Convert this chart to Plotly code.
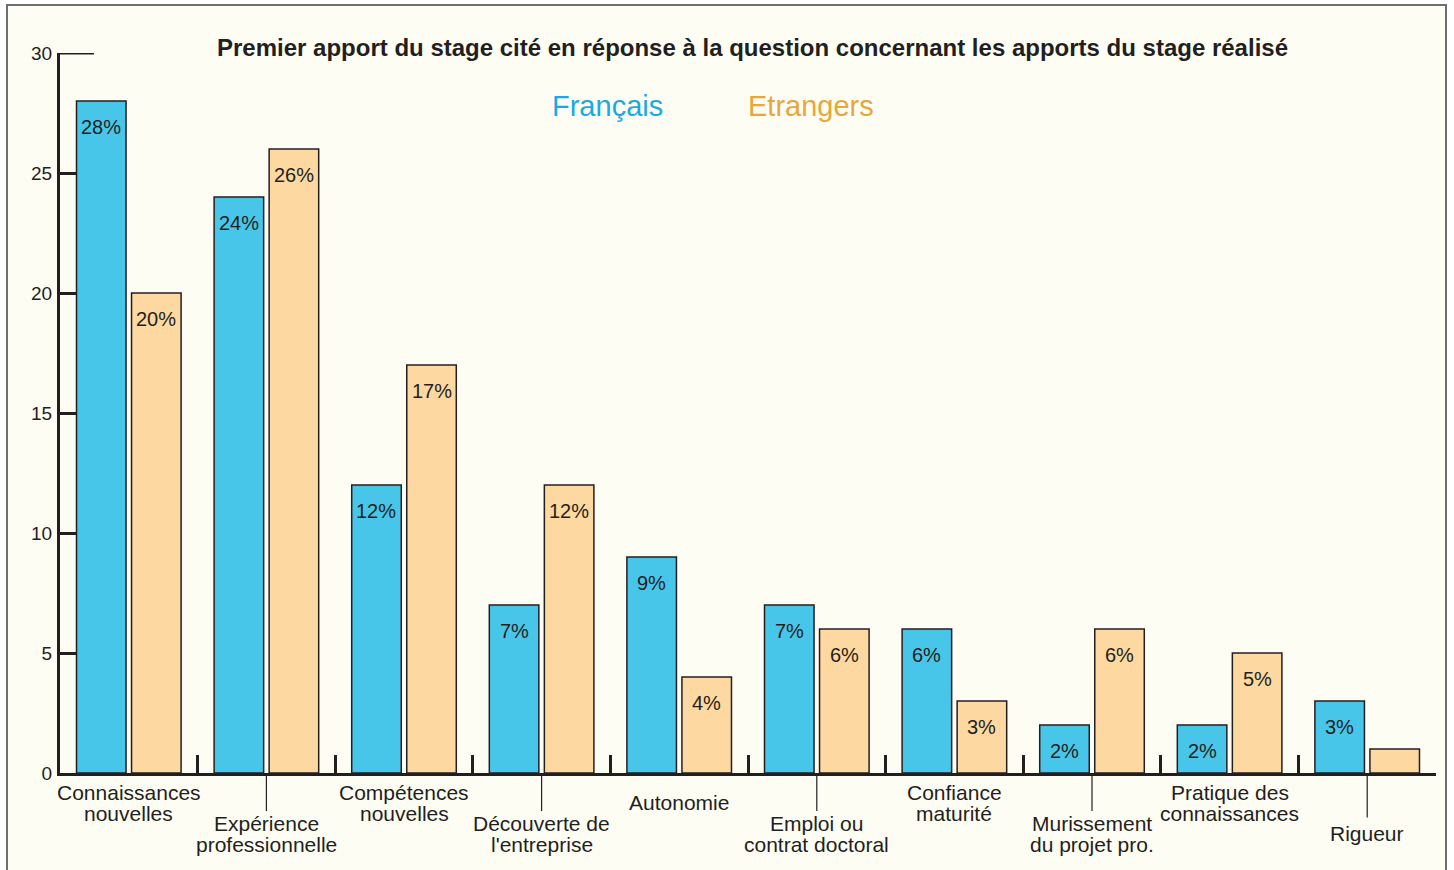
import plotly.graph_objects as go

# ---------------- data ----------------
categories = ["Connaissances\nnouvelles", "Expérience\nprofessionnelle", "Compétences\nnouvelles",
              "Découverte de\nl'entreprise", "Autonomie", "Emploi ou\ncontrat doctoral",
              "Confiance\nmaturité", "Murissement\ndu projet pro.", "Pratique des\nconnaissances",
              "Rigueur"]
francais = [28, 24, 12, 7, 9, 7, 6, 2, 2, 3]
etrangers = [20, 26, 17, 12, 4, 6, 3, 6, 5, 1]
francais_labels = ["28%", "24%", "12%", "7%", "9%", "7%", "6%", "2%", "2%", "3%"]
etrangers_labels = ["20%", "26%", "17%", "12%", "4%", "6%", "3%", "6%", "5%", None]
y_ticks = [0, 5, 10, 15, 20, 25, 30]
title_text = "Premier apport du stage cité en réponse à la question concernant les apports du stage réalisé"
series_names = ["Français", "Etrangers"]

# ---------------- style ----------------
W, H = 1454, 870
ML, MR, MT, MB = 60, 18, 53, 97
PW, PH = W - ML - MR, H - MT - MB
BLUE, ORANGE = "#47c6ea", "#fdd8a0"
BLUE_TXT, ORANGE_TXT = "#1ba9e1", "#e8a63c"
INK = "#231f20"
CREAM = "#fefdf4"
FONT = "Liberation Sans, Arial, sans-serif"
BAR_W = 0.36
OFF_BLUE, OFF_ORANGE = -0.38, 0.02
group_px = PW / len(categories)

xcats = [c.replace("\n", " ") for c in categories]

fig = go.Figure()
fig.add_trace(go.Bar(x=xcats, y=francais, name=series_names[0], width=BAR_W, offset=OFF_BLUE,
                     marker=dict(color=BLUE, line=dict(color=INK, width=1.5)), showlegend=False))
fig.add_trace(go.Bar(x=xcats, y=etrangers, name=series_names[1], width=BAR_W, offset=OFF_ORANGE,
                     marker=dict(color=ORANGE, line=dict(color=INK, width=1.5)), showlegend=False))

annotations = []
shapes = []

# value labels inside bars
for vals, labs, off in ((francais, francais_labels, OFF_BLUE), (etrangers, etrangers_labels, OFF_ORANGE)):
    for c, v, t in zip(xcats, vals, labs):
        if t is None:
            continue
        annotations.append(dict(x=c, y=v, xref="x", yref="y", text=t, showarrow=False,
                                xshift=(off + BAR_W / 2) * group_px, yshift=-26, yanchor="middle",
                                font=dict(family=FONT, size=20, color=INK)))

# category labels (staggered) with leader lines
LINE_GAP = 21
ROW_CENTERS = [29.5, 60.5]  # px below axis
for i, (c, full) in enumerate(zip(xcats, categories)):
    lines = full.split("\n")
    row = i % 2
    center = ROW_CENTERS[row]
    n = len(lines)
    first = center - (n - 1) * LINE_GAP / 2
    for k, ln in enumerate(lines):
        annotations.append(dict(x=c, y=0, xref="x", yref="y", text=ln, showarrow=False,
                                yshift=-(first + k * LINE_GAP), yanchor="middle",
                                font=dict(family=FONT, size=21, color=INK)))
    if row == 1:
        end_px = first - 12 if n > 1 else first - 16
        shapes.append(dict(type="line", xref="x", yref="paper", x0=c, x1=c, y0=0, y1=-end_px / PH,
                           line=dict(color=INK, width=1.2)))

# title & legend texts
annotations.append(dict(x=(753 - ML) / PW, y=(H - MB - 47) / PH, xref="paper", yref="paper",
                        text="<b>" + title_text + "</b>", showarrow=False, yanchor="middle",
                        font=dict(family=FONT, size=24, color=INK)))
annotations.append(dict(x=(607 - ML) / PW, y=(H - MB - 106) / PH, xref="paper", yref="paper",
                        text=series_names[0], showarrow=False, yanchor="middle",
                        font=dict(family=FONT, size=29, color=BLUE_TXT)))
annotations.append(dict(x=(811 - ML) / PW, y=(H - MB - 106) / PH, xref="paper", yref="paper",
                        text=series_names[1], showarrow=False, yanchor="middle",
                        font=dict(family=FONT, size=29, color=ORANGE_TXT)))

# frame
shapes.insert(0, dict(type="rect", xref="paper", yref="paper", layer="below",
                      x0=(7 - ML) / PW, x1=(1446 - ML) / PW, y0=-0.2, y1=(H - MB - 5) / PH,
                      fillcolor=CREAM, line=dict(color="#6d6e71", width=2)))
# long top tick at max
shapes.append(dict(type="line", xref="paper", yref="y", x0=0, x1=34 / PW, y0=y_ticks[-1], y1=y_ticks[-1],
                   line=dict(color=INK, width=3)))

fig.update_layout(
    width=W, height=H,
    margin=dict(l=ML, r=MR, t=MT, b=MB),
    paper_bgcolor="white", plot_bgcolor="rgba(0,0,0,0)",
    barmode="overlay",
    font=dict(family=FONT, color=INK),
    annotations=annotations, shapes=shapes,
    xaxis=dict(type="category", showticklabels=False, showline=True, linecolor=INK, linewidth=3,
               ticks="inside", tickson="boundaries", ticklen=18, tickwidth=3, tickcolor=INK,
               showgrid=False, zeroline=False, range=[-0.5, len(categories) - 0.5]),
    yaxis=dict(range=[0, 30], tickvals=y_ticks, showline=True, linecolor=INK, linewidth=3,
               ticks="inside", ticklen=17, tickwidth=3, tickcolor=INK, showgrid=False, zeroline=False,
               tickfont=dict(family=FONT, size=19, color=INK), ticklabelstandoff=1),
)

fig.write_html("out.html", config={"displayModeBar": False},
               post_script="document.body.style.margin='0';document.body.style.overflow='hidden';")
